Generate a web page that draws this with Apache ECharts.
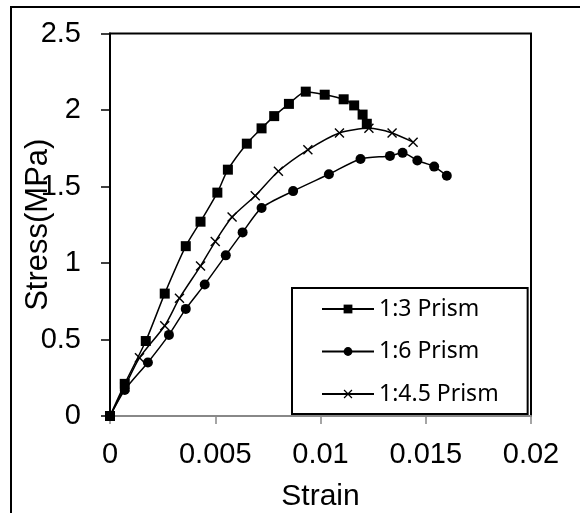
<!DOCTYPE html>
<html>
<head>
<meta charset="utf-8">
<script src="https://cdn.jsdelivr.net/npm/echarts@6/dist/echarts.min.js"></script>
<style>
  html, body { margin: 0; padding: 0; background: #fff; }
  #chart { width: 580px; height: 513px; }
</style>
</head>
<body>
<div id="chart"></div>
<script>
// 数据 (strain, stress MPa) 从图上读出
const prism13 = [
  [0, 0], [0.0007, 0.21], [0.0017, 0.49], [0.0026, 0.80], [0.0036, 1.11],
  [0.0043, 1.27], [0.0051, 1.46], [0.0056, 1.61], [0.0065, 1.78], [0.0072, 1.88],
  [0.0078, 1.96], [0.0085, 2.04], [0.0093, 2.12], [0.0102, 2.10], [0.0111, 2.07],
  [0.0116, 2.03], [0.0120, 1.97], [0.0122, 1.91]
];
const prism16 = [
  [0, 0], [0.0007, 0.17], [0.0018, 0.35], [0.0028, 0.53], [0.0036, 0.70],
  [0.0045, 0.86], [0.0055, 1.05], [0.0063, 1.20], [0.0072, 1.36], [0.0087, 1.47],
  [0.0104, 1.58], [0.0119, 1.68], [0.0133, 1.70], [0.0139, 1.72], [0.0146, 1.67],
  [0.0154, 1.63], [0.0160, 1.57]
];
const prism145 = [
  [0, 0], [0.0007, 0.19], [0.0014, 0.38], [0.0026, 0.59], [0.0033, 0.77],
  [0.0043, 0.98], [0.0050, 1.14], [0.0058, 1.30], [0.0069, 1.44], [0.0080, 1.60],
  [0.0094, 1.74], [0.0109, 1.85], [0.0123, 1.88], [0.0134, 1.85], [0.0144, 1.79]
];
const seriesNames = ['1:3 Prism', '1:6 Prism', '1:4.5 Prism'];
const xTicks = ['0', '0.005', '0.01', '0.015', '0.02'];
const yTicks = ['0', '0.5', '1', '1.5', '2', '2.5'];

// 叉号 symbol
const crossPath = 'path://M0,1L1,0L5,4L9,0L10,1L6,5L10,9L9,10L5,6L1,10L0,9L4,5Z';

let chart = echarts.init(document.getElementById('chart'));

let mkSeries = function (name, data, symbol, size) {
  return {
    name: name,
    type: 'line',
    data: data,
    smooth: 0.25,
    symbol: symbol,
    symbolSize: size,
    showAllSymbol: true,
    lineStyle: { color: '#000', width: 1.5 },
    itemStyle: { color: '#000' },
    emphasis: { disabled: true },
    z: 3
  };
};

let option = {
  animation: false,
  backgroundColor: '#fff',
  textStyle: { fontFamily: 'Liberation Sans, Arial, sans-serif' },
  graphic: [{
    type: 'rect',
    shape: { x: 11, y: 7, width: 700, height: 700 },
    style: { fill: 'none', stroke: '#000', lineWidth: 2 },
    silent: true
  }],
  grid: {
    left: 110, right: 49, top: 33.5, bottom: 97,
    containLabel: false,
    outerBoundsMode: 'none',
    show: true, borderColor: '#000', borderWidth: 2
  },
  legend: {
    data: seriesNames,
    orient: 'vertical',
    left: 292, top: 288,
    padding: [6, 29, 5, 29],
    itemGap: 12.5,
    itemWidth: 52, itemHeight: 11,
    borderColor: '#000', borderWidth: 2,
    backgroundColor: '#fff',
    textStyle: { fontFamily: 'Noto Sans', fontSize: 23, color: '#000', lineHeight: 30 },
    selectedMode: false
  },
  xAxis: {
    type: 'value',
    min: 0, max: 0.02, interval: 0.005,
    name: 'Strain', nameLocation: 'middle', nameGap: 66,
    nameMoveOverlap: false,
    nameTextStyle: { fontSize: 30, color: '#000' },
    axisLine: { lineStyle: { color: '#888', width: 2 } },
    axisTick: { show: true, length: 8, lineStyle: { color: '#888', width: 1.5 } },
    axisLabel: {
      fontSize: 29, color: '#000', margin: 24,
      formatter: function (v) { return xTicks[Math.round(v / 0.005)]; }
    },
    splitLine: { show: false }
  },
  yAxis: {
    type: 'value',
    min: 0, max: 2.5, interval: 0.5,
    name: 'Stress(MPa)', nameLocation: 'middle', nameGap: 56,
    nameMoveOverlap: false,
    nameTextStyle: { fontSize: 31, color: '#000' },
    axisLine: { show: true, lineStyle: { color: '#000', width: 2 } },
    axisTick: { show: true, length: 9, lineStyle: { color: '#000', width: 1.5 } },
    axisLabel: {
      fontSize: 29, color: '#000', margin: 29,
      formatter: function (v) { return yTicks[Math.round(v / 0.5)]; }
    },
    splitLine: { show: false }
  },
  series: [
    mkSeries(seriesNames[0], prism13, 'rect', 10),
    mkSeries(seriesNames[1], prism16, 'circle', 10),
    mkSeries(seriesNames[2], prism145, crossPath, 10)
  ]
};
chart.setOption(option);
</script>
</body>
</html>
